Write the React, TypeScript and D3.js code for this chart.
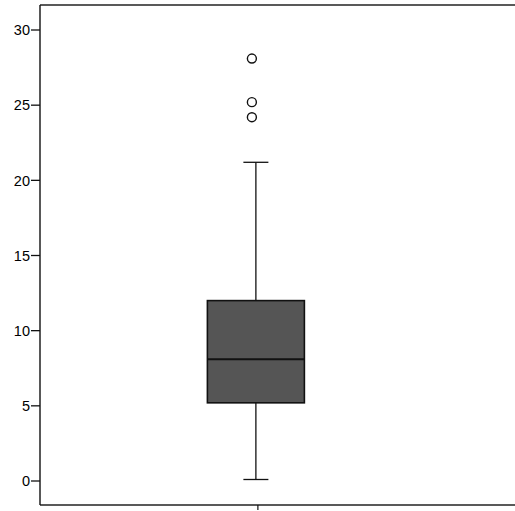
import React from "react";
import * as d3 from "d3";

// Summary statistics of the single box plot
const boxStats = { q1: 5.2, median: 8.1, q3: 12.0, whiskerLow: 0.1, whiskerHigh: 21.2 };
const outlierValues = [28.1, 25.2, 24.2];
const yTickValues = [0, 5, 10, 15, 20, 25, 30];

const W = 515;
const H = 511;
const axisX = 40;
const topY = 5;
const bottomY = 505;

export default function App() {
  const y = d3.scaleLinear().domain([0, 30]).range([481, 30]);
  const x = d3.scaleLinear().domain([0, 1]).range([axisX, W]);
  const cx = x(0.4545);
  const boxHalf = 48.5;
  const capHalf = 12.5;

  return (
    <svg
      width={W}
      height={H}
      style={{ position: "absolute", left: 0, top: 0, background: "#fff" }}
      fontFamily="'Liberation Sans', Arial, sans-serif"
    >
      {/* frame: top, bottom and left axis lines */}
      <line x1={axisX} x2={W} y1={topY} y2={topY} stroke="#222" strokeWidth={1.5} />
      <line x1={axisX} x2={W} y1={bottomY} y2={bottomY} stroke="#222" strokeWidth={1.5} />
      <line x1={axisX} x2={axisX} y1={topY} y2={bottomY} stroke="#111" strokeWidth={1.4} />

      {/* y ticks */}
      {yTickValues.map((t) => (
        <g key={t}>
          <line x1={axisX - 9} x2={axisX} y1={y(t)} y2={y(t)} stroke="#111" strokeWidth={1.3} />
          <text
            x={axisX - 10}
            y={y(t)}
            dy="0.36em"
            textAnchor="end"
            fontSize={14.5}
            fill="#000"
          >
            {t}
          </text>
        </g>
      ))}

      {/* x tick */}
      <line x1={cx + 2} x2={cx + 2} y1={bottomY} y2={bottomY + 5} stroke="#111" strokeWidth={1.2} />

      {/* whiskers */}
      <line x1={cx} x2={cx} y1={y(boxStats.whiskerHigh)} y2={y(boxStats.q3)} stroke="#111" strokeWidth={1.3} />
      <line x1={cx} x2={cx} y1={y(boxStats.q1)} y2={y(boxStats.whiskerLow)} stroke="#111" strokeWidth={1.3} />
      <line x1={cx - capHalf} x2={cx + capHalf} y1={y(boxStats.whiskerHigh)} y2={y(boxStats.whiskerHigh)} stroke="#111" strokeWidth={1.3} />
      <line x1={cx - capHalf} x2={cx + capHalf} y1={y(boxStats.whiskerLow)} y2={y(boxStats.whiskerLow)} stroke="#111" strokeWidth={1.3} />

      {/* box */}
      <rect
        x={cx - boxHalf}
        y={y(boxStats.q3)}
        width={boxHalf * 2}
        height={y(boxStats.q1) - y(boxStats.q3)}
        fill="#555"
        stroke="#111"
        strokeWidth={1.6}
      />
      <line
        x1={cx - boxHalf}
        x2={cx + boxHalf}
        y1={y(boxStats.median)}
        y2={y(boxStats.median)}
        stroke="#111"
        strokeWidth={2}
      />

      {/* outliers */}
      {outlierValues.map((v, i) => (
        <circle key={i} cx={cx - 4} cy={y(v)} r={4.5} fill="none" stroke="#111" strokeWidth={1.4} />
      ))}
    </svg>
  );
}
